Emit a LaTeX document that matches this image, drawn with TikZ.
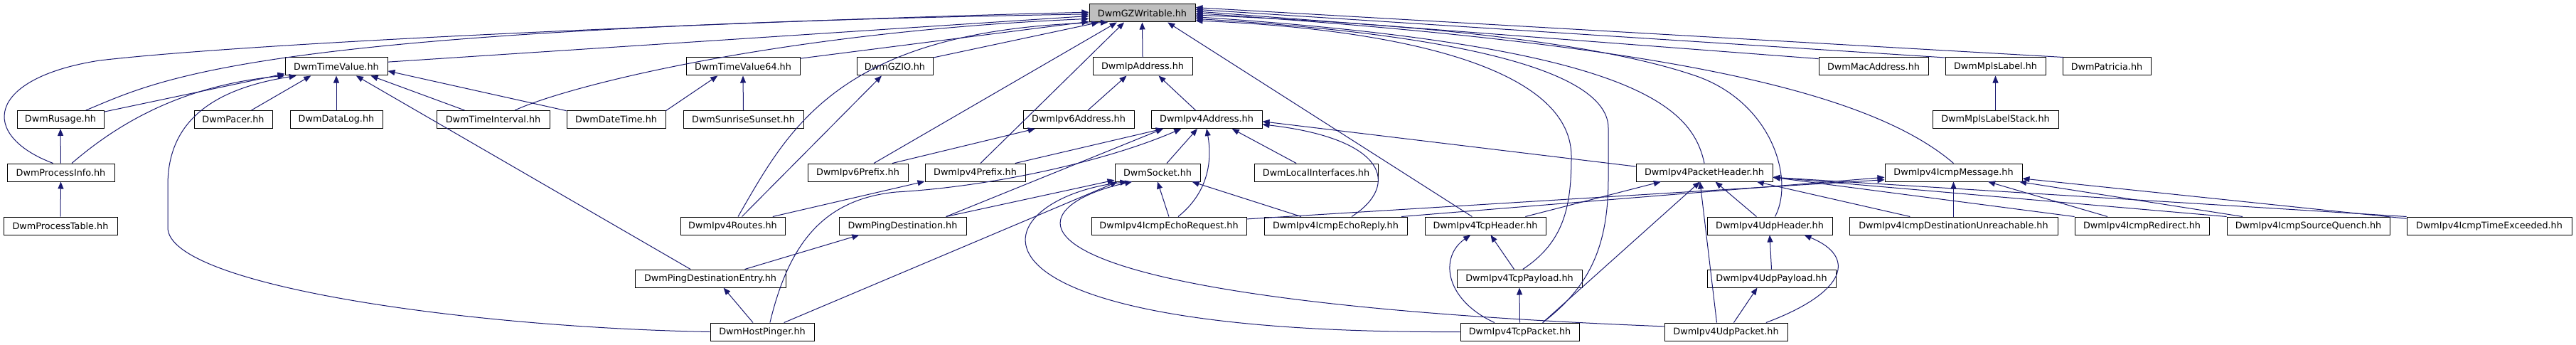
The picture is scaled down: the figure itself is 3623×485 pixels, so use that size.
\documentclass[tikz,border=0pt]{standalone}
\usepackage{fontspec}
\setmainfont{DejaVu Sans}
\usetikzlibrary{arrows.meta}

\definecolor{edgeblue}{HTML}{191970}
\definecolor{rootgray}{HTML}{BFBFBF}

\tikzset{
  file/.style={rectangle, draw=black, line width=0.75pt, fill=white, minimum height=18.75pt,
    inner sep=0pt, font=\fontsize{9.6}{11}\selectfont},
  root/.style={file, fill=rootgray},
  dep/.style={draw=edgeblue, line width=0.75pt, -{Triangle[length=7.5pt,width=6pt]}},
}

\begin{document}
\begin{tikzpicture}[x=0.75pt, y=-0.75pt]
  \useasboundingbox (0,0) rectangle (3623,485);
  \fill[white] (0,0) rectangle (3623,485);

  % Row 0: the header everything depends on
  \node[root, minimum width=111.75pt] (gz) at (1606.5,18.5) {DwmGZWritable.hh};

  % Row 1
  \node[file, minimum width=108pt] (tv) at (473,93.5) {DwmTimeValue.hh};
  \node[file, minimum width=120pt] (tv64) at (1045,93.5) {DwmTimeValue64.hh};
  \node[file, minimum width=80.25pt] (gzio) at (1258.5,93.5) {DwmGZIO.hh};
  \node[file, minimum width=105pt] (ipa) at (1607,93.5) {DwmIpAddress.hh};
  \node[file, minimum width=115.5pt] (mac) at (2635,93.5) {DwmMacAddress.hh};
  \node[file, minimum width=105.75pt] (mpls) at (2806.5,93.5) {DwmMplsLabel.hh};
  \node[file, minimum width=93pt] (pat) at (2963,93.5) {DwmPatricia.hh};

  % Row 2
  \node[file, minimum width=91.5pt] (rus) at (85,168) {DwmRusage.hh};
  \node[file, minimum width=82.5pt] (pacer) at (328,168) {DwmPacer.hh};
  \node[file, minimum width=97.5pt] (dlog) at (473,168) {DwmDataLog.hh};
  \node[file, minimum width=119.25pt] (tint) at (693.5,168) {DwmTimeInterval.hh};
  \node[file, minimum width=104.25pt] (dt) at (866.5,168) {DwmDateTime.hh};
  \node[file, minimum width=126.75pt] (sun) at (1045.5,168) {DwmSunriseSunset.hh};
  \node[file, minimum width=117pt] (ip6) at (1517,168) {DwmIpv6Address.hh};
  \node[file, minimum width=117pt] (ip4) at (1697,168) {DwmIpv4Address.hh};
  \node[file, minimum width=132.75pt] (mplss) at (2806.5,168) {DwmMplsLabelStack.hh};

  % Row 3
  \node[file, minimum width=113.25pt] (pinfo) at (85.5,242.5) {DwmProcessInfo.hh};
  \node[file, minimum width=105.75pt] (ip6p) at (1206.5,242.5) {DwmIpv6Prefix.hh};
  \node[file, minimum width=105.75pt] (ip4p) at (1371.5,242.5) {DwmIpv4Prefix.hh};
  \node[file, minimum width=90pt] (sock) at (1628,242.5) {DwmSocket.hh};
  \node[file, minimum width=130.5pt] (lif) at (1851,242.5) {DwmLocalInterfaces.hh};
  \node[file, minimum width=144pt] (ph) at (2397,242.5) {DwmIpv4PacketHeader.hh};
  \node[file, minimum width=144.75pt] (icmp) at (2747.5,242.5) {DwmIpv4IcmpMessage.hh};

  % Row 4
  \node[file, minimum width=120pt] (ptab) at (85,317.5) {DwmProcessTable.hh};
  \node[file, minimum width=110.25pt] (routes) at (1030.5,317.5) {DwmIpv4Routes.hh};
  \node[file, minimum width=134.25pt] (pdest) at (1269.5,317.5) {DwmPingDestination.hh};
  \node[file, minimum width=163.5pt] (ereq) at (1644,317.5) {DwmIpv4IcmpEchoRequest.hh};
  \node[file, minimum width=150.75pt] (erep) at (1878.5,317.5) {DwmIpv4IcmpEchoReply.hh};
  \node[file, minimum width=127.5pt] (tcph) at (2089,317.5) {DwmIpv4TcpHeader.hh};
  \node[file, minimum width=132pt] (udph) at (2489,317.5) {DwmIpv4UdpHeader.hh};
  \node[file, minimum width=219.75pt] (unr) at (2747.5,317.5) {DwmIpv4IcmpDestinationUnreachable.hh};
  \node[file, minimum width=141.75pt] (redir) at (3012.5,317.5) {DwmIpv4IcmpRedirect.hh};
  \node[file, minimum width=171.75pt] (squench) at (3246.5,317.5) {DwmIpv4IcmpSourceQuench.hh};
  \node[file, minimum width=174pt] (texc) at (3501,317.5) {DwmIpv4IcmpTimeExceeded.hh};

  % Row 5
  \node[file, minimum width=159pt] (pde) at (999,391.5) {DwmPingDestinationEntry.hh};
  \node[file, minimum width=132pt] (tcpl) at (2137,391.5) {DwmIpv4TcpPayload.hh};
  \node[file, minimum width=135.75pt] (udpl) at (2491.5,391.5) {DwmIpv4UdpPayload.hh};

  % Row 6
  \node[file, minimum width=109.5pt] (hp) at (1072,466.5) {DwmHostPinger.hh};
  \node[file, minimum width=125.25pt] (tcpk) at (2137.5,466.5) {DwmIpv4TcpPacket.hh};
  \node[file, minimum width=129.75pt] (udpk) at (2427.5,466.5) {DwmIpv4UdpPacket.hh};

  % Straight includes
  \foreach \s/\t in {tv.5/gz.183, tv64.8/gz.189, gzio.13/gz.192, ipa.north/gz.south,
      ip6p.30/gz.200, ip4p.60/gz.207, tcph.145/gz.340, mac.172/gz.2, mpls.170/gz.4, pat.168/gz.6,
      rus.10/tv.188, pacer.27/tv.200, dlog.north/tv.south, tint.162/tv.345, dt.170/tv.355, pde.155/tv.335,
      dt.10/tv64.200, sun.north/tv64.south, routes.45/gzio.215, routes.13/ip4p.190,
      pinfo.north/rus.south, ptab.north/pinfo.south,
      ip6.45/ipa.210, ip4.140/ipa.330, ip6p.15/ip6.192, ip4p.13/ip4.192, pdest.12/ip4.192,
      pdest.12/sock.190, sock.45/ip4.225, lif.155/ip4.340, ph.175/ip4.358,
      ereq.north/sock.south, erep.165/sock.345, hp.23/sock.193, hp.135/pde.325, pde.15/pdest.192,
      mplss.north/mpls.south,
      ereq.5/icmp.186, erep.8/icmp.184, unr.north/icmp.south, redir.165/icmp.345,
      squench.172/icmp.352, texc.175/icmp.355,
      tcph.13/ph.192, udph.145/ph.320, tcpk.22/ph.245, udpk.135/ph.245, unr.168/ph.350,
      redir.north west/ph.356, squench.north west/ph.356, texc.north west/ph.356,
      tcpl.120/tcph.300, tcpk.north/tcpl.south, udpl.north/udph.south, udpk.50/udpl.213}
    \draw[dep] (\s) -- (\t);

  % Bent includes
  \draw[dep] (pinfo.130) .. controls (-30,190) and (-20,110) .. (140,85)
    .. controls (400,55) and (1200,25) .. (gz.179);
  \draw[dep] (rus.20) .. controls (230,110) and (350,40) .. (gz.181);
  \draw[dep] (tint.23) .. controls (800,120) and (1100,45) .. (gz.186);
  \draw[dep] (routes.60) .. controls (1110,180) and (1180,40) .. (gz.195);
  \draw[dep] (pinfo.40) .. controls (170,170) and (260,120) .. (tv.190);
  \draw[dep] (hp.west) .. controls (650,460) and (236,400) .. (236,320) -- (236,260)
    .. controls (236,170) and (300,125) .. (tv.193);
  \draw[dep] (hp.50) .. controls (1110,340) and (1160,280) .. (1260,270)
    .. controls (1400,262) and (1560,225) .. (ip4.200);
  \draw[dep] (ereq.45) .. controls (1700,270) and (1705,225) .. (ip4.south);
  \draw[dep] (erep.30) .. controls (1970,260) and (1950,195) .. (ip4.355);
  \draw[dep] (tcpk.west) .. controls (1300,470) and (1380,280) .. (sock.197);
  \draw[dep] (udpk.175) .. controls (1350,420) and (1430,290) .. (sock.200);
  \draw[dep] (tcpl.70) .. controls (2200,340) and (2210,290) .. (2210,220)
    .. controls (2210,90) and (1950,40) .. (gz.352);
  \draw[dep] (tcpk.22) .. controls (2240,400) and (2262,340) .. (2262,250) -- (2262,180)
    .. controls (2262,90) and (2000,45) .. (gz.354);
  \draw[dep] (ph.north) .. controls (2380,150) and (2300,65) .. (gz.356);
  \draw[dep] (udph.60) .. controls (2525,250) and (2490,140) .. (2380,105)
    .. controls (2200,45) and (1850,28) .. (gz.358);
  \draw[dep] (icmp.north) .. controls (2620,120) and (2300,60) .. (gz.east);
  \draw[dep] (tcpk.160) .. controls (2030,420) and (2025,360) .. (tcph.212);
  \draw[dep] (udpk.13) .. controls (2600,410) and (2610,360) .. (udph.345);
\end{tikzpicture}
\end{document}
